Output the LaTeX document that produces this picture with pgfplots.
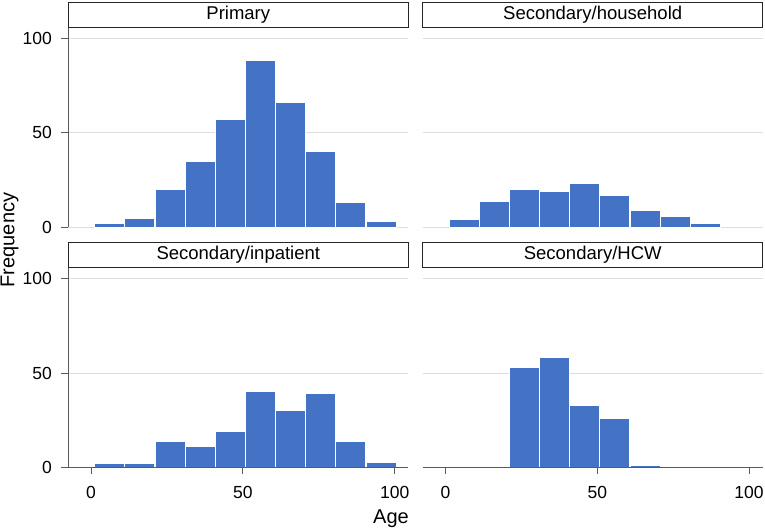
\documentclass[border=0pt]{standalone}
\usepackage{fontspec}
\setmainfont{Liberation Sans}
\usepackage{pgfplots}
\pgfplotsset{compat=1.18}
\definecolor{barblue}{HTML}{4472C4}
\definecolor{axgray}{RGB}{90,90,90}
\definecolor{gridgray}{RGB}{222,222,222}
\pgfplotsset{
 panel/.style={
  scale only axis, width=340pt, height=200pt,
  xmin=-7.5, xmax=104.5, ymin=0, ymax=105.6,
  axis line style={draw=none},
  ytick={0,50,100}, xtick={0,50,100},
  ymajorgrids, grid style={gridgray, line width=1pt},
  tick align=outside, major tick length=7pt,
  tick style={draw=none},
  xtick pos=bottom, ytick pos=left,
  tick label style={font=\fontsize{17.5}{20}\selectfont},
  yticklabel style={xshift=-6pt},
  xticklabel style={yshift=-8pt},
  /pgf/number format/assume math mode=true,
  clip=false, anchor=south west,
 },
 bars/.style={ybar interval, fill=barblue, draw=white, line width=1.1pt},
 noylab/.style={yticklabels={\relax,\relax,\relax}},
}
\tikzset{
 strip/.style={draw=black!85, line width=1pt, fill=white, minimum width=340pt,
  minimum height=25pt, anchor=south, inner sep=0pt, outer sep=0pt,
  font=\fontsize{18.5}{20}\selectfont},
 axl/.style={axgray, line width=1pt},
}
\newcommand{\yaxisdeco}{%
 \draw[axl] (axis cs:-7.5,0) -- (axis cs:-7.5,105.6);
 \draw[axl] ([xshift=-7.5pt]axis cs:-7.5,0) -- (axis cs:-7.5,0);
 \draw[axl] ([xshift=-7.5pt]axis cs:-7.5,50) -- (axis cs:-7.5,50);
 \draw[axl] ([xshift=-7.5pt]axis cs:-7.5,100) -- (axis cs:-7.5,100);
}
\newcommand{\xaxisdeco}{%
 \draw[axl] (axis cs:-7.5,0) -- (axis cs:104.5,0);
 \draw[axl] ([yshift=-6.5pt]axis cs:0,0) -- (axis cs:0,0);
 \draw[axl] ([yshift=-6.5pt]axis cs:50,0) -- (axis cs:50,0);
 \draw[axl] ([yshift=-6.5pt]axis cs:100,0) -- (axis cs:100,0);
}
\begin{document}
\begin{tikzpicture}
\useasboundingbox (0,0) rectangle (765pt,528pt);
% Top-left: Primary
\begin{axis}[panel, at={(68.3pt,300.5pt)}, xtick=\empty]
\addplot[bars] coordinates {(1.2,2) (11.13,5) (21.06,20) (30.99,35) (40.92,57) (50.85,88) (60.78,66) (70.71,40) (80.64,13) (90.57,3) (100.5,3)};
\yaxisdeco
\node[strip] at (rel axis cs:0.5,1) {Primary};
\end{axis}
% Top-right: Secondary/household
\begin{axis}[panel, at={(422.7pt,300.5pt)}, xtick=\empty, noylab]
\addplot[bars] coordinates {(1.2,4) (11.13,14) (21.06,20) (30.99,19) (40.92,23) (50.85,17) (60.78,9) (70.71,6) (80.64,2) (90.57,2)};
\node[strip] at (rel axis cs:0.5,1) {Secondary/household};
\end{axis}
% Bottom-left: Secondary/inpatient
\begin{axis}[panel, at={(68.3pt,60.3pt)}]
\addplot[bars] coordinates {(1.2,2) (11.13,2) (21.06,14) (30.99,11) (40.92,19) (50.85,40) (60.78,30) (70.71,39) (80.64,14) (90.57,3) (100.5,3)};
\yaxisdeco
\xaxisdeco
\node[strip] at (rel axis cs:0.5,1) {Secondary/inpatient};
\end{axis}
% Bottom-right: Secondary/HCW
\begin{axis}[panel, at={(422.7pt,60.3pt)}, noylab]
\addplot[bars] coordinates {(21.06,53) (30.99,58) (40.92,33) (50.85,26) (60.78,1) (70.71,1)};
\xaxisdeco
\node[strip] at (rel axis cs:0.5,1) {Secondary/HCW};
\end{axis}
\node[rotate=90, anchor=center, font=\fontsize{20}{22}\selectfont] at (9.5pt,288pt) {Frequency};
\node[anchor=base, font=\fontsize{20}{22}\selectfont, inner sep=0pt] at (391pt,5pt) {Age};
\end{tikzpicture}
\end{document}
